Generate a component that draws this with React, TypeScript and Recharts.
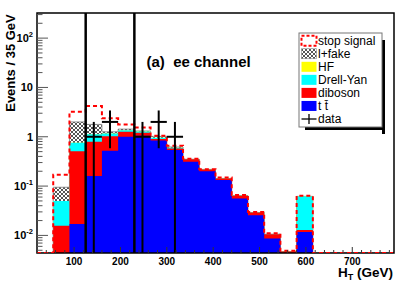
import React from 'react';
import {
  ComposedChart,
  Area,
  Line,
  Scatter,
  ErrorBar,
  XAxis,
  YAxis,
  ReferenceLine,
  ReferenceArea,
} from 'recharts';

// 35 GeV bins, lower edges plus the last upper edge
const BIN_EDGES = [20, 55, 90, 125, 160, 195, 230, 265, 300, 335, 370, 405, 440, 475, 510, 545, 580, 615, 650, 685, 720, 755, 790];

// per-bin contributions (events / 35 GeV)
const TTBAR = [0, 0, 0.017, 0.16, 0.52, 1.0, 1.05, 0.84, 0.54, 0.31, 0.2, 0.133, 0.056, 0.0255, 0.0087, 0, 0.0117, 0, 0, 0, 0, 0];
const DIBOSON = [0, 0.0157, 0.49, 0.63, 0.5, 0.26, 0.15, 0.06, 0.04, 0.04, 0.018, 0.01, 0.008, 0.0035, 0.0019, 0.0047, 0.0012, 0, 0, 0, 0, 0];
const DRELL_YAN = [0, 0.034, 0.25, 0.33, 0.15, 0.09, 0.08, 0.05, 0.02, 0, 0, 0, 0, 0, 0, 0, 0.049, 0, 0, 0, 0, 0];
const HEAVY_FLAVOUR = [0, 0, 0, 0, 0, 0, 0, 0, 0, 0, 0, 0, 0, 0, 0, 0, 0, 0, 0, 0, 0, 0];
const LEP_FAKE = [0, 0.045, 1.24, 0.66, 0.09, 0.08, 0.03, 0.07, 0.02, 0, 0, 0, 0, 0, 0, 0, 0, 0, 0, 0, 0, 0];
const STOP_SIGNAL = [0, 0.075, 1.2, 2.42, 1.1, 0.35, 0.24, 0.03, 0.04, 0.01, 0.002, 0.007, 0.002, 0.001, 0.0004, 0.0002, 0.002, 0, 0, 0, 0, 0];
const DATA_COUNTS = [0, 0, 0, 1, 2, 0, 1, 2, 1, 0, 0, 0, 0, 0, 0, 0, 0, 0, 0, 0, 0, 0];

const CUT_LINES = [125, 230];

const X_LABELS = [100, 200, 300, 400, 500, 600, 700];
const Y_LABELS = [
  { v: 0.01, base: '10', sup: '-2' },
  { v: 0.1, base: '10', sup: '-1' },
  { v: 1, base: '1', sup: '' },
  { v: 10, base: '10', sup: '' },
  { v: 100, base: '10', sup: '2' },
];

const LEGEND = ['stop signal', 'l+fake', 'HF', 'Drell-Yan', 'diboson', 't t\u0304', 'data'];

const YMIN = 0.0044;
const YMAX = 323;
const FONT = '"Liberation Sans", Arial, Helvetica, sans-serif';

const sum = (parts: number[][]) => parts[0].map((_, i) => parts.reduce((s, p) => s + p[i], 0));
const floor = (v: number) => (v > YMIN ? v : YMIN);

const cTT = sum([TTBAR]);
const cDB = sum([TTBAR, DIBOSON]);
const cDY = sum([TTBAR, DIBOSON, DRELL_YAN]);
const cHF = sum([TTBAR, DIBOSON, DRELL_YAN, HEAVY_FLAVOUR]);
const cFK = sum([TTBAR, DIBOSON, DRELL_YAN, HEAVY_FLAVOUR, LEP_FAKE]);
const cSG = sum([TTBAR, DIBOSON, DRELL_YAN, HEAVY_FLAVOUR, LEP_FAKE, STOP_SIGNAL]);

const histRows = BIN_EDGES.map((x, i) => {
  const j = Math.min(i, TTBAR.length - 1);
  return {
    x,
    tt: floor(cTT[j]),
    db: floor(cDB[j]),
    dy: floor(cDY[j]),
    hf: floor(cHF[j]),
    fk: floor(cFK[j]),
    sg: floor(cSG[j]),
  };
});

const dataPoints = DATA_COUNTS.map((n, i) => ({
  x: (BIN_EDGES[i] + BIN_EDGES[i + 1]) / 2,
  y: n,
  ex: (BIN_EDGES[i + 1] - BIN_EDGES[i]) / 2,
  ey: [n - Math.max(n - Math.sqrt(n), YMIN), Math.sqrt(n)],
})).filter((d) => d.y > 0);

const xTicks: number[] = [];
for (let v = 20; v <= 780; v += 20) xTicks.push(v);

const yTicks: number[] = [];
for (let k = -3; k <= 2; k++) {
  for (let m = 1; m <= 9; m++) {
    const v = m * Math.pow(10, k);
    if (v >= YMIN && v <= YMAX) yTicks.push(Number(v.toPrecision(3)));
  }
}

const XTick = (props: any) => {
  const { x, y, payload } = props;
  const major = X_LABELS.includes(payload.value);
  return (
    <g>
      <line x1={x} x2={x} y1={y} y2={y - (major ? 6 : 3)} stroke="#333" strokeWidth={1} />
      {major && (
        <text x={x} y={y + 11.5} textAnchor="middle" fontFamily={FONT} fontWeight="bold" fontSize={10} fill="#000">
          {payload.value}
        </text>
      )}
    </g>
  );
};

const YTick = (props: any) => {
  const { x, y, payload } = props;
  const lab = Y_LABELS.find((l) => Math.abs(l.v - payload.value) < l.v * 1e-3);
  return (
    <g>
      <line x1={x} x2={x + (lab ? 11 : 5.5)} y1={y} y2={y} stroke="#555" strokeWidth={1} />
      {lab && (
        <text x={x - 4} y={y + 4} textAnchor="end" fontFamily={FONT} fontWeight="bold" fontSize={11} fill="#000">
          {lab.base}
          {lab.sup && (
            <tspan fontSize={7.5} dy={-5}>
              {lab.sup}
            </tspan>
          )}
        </text>
      )}
    </g>
  );
};

const LX = 299;
const LY = 33;
const LW = 83;
const LH = 94;

const legendSymbol = (i: number, cy: number) => {
  const bx = 301.5;
  const bw = 15;
  switch (i) {
    case 0:
      return <rect x={bx} y={cy - 5} width={bw} height={10} fill="#fff" stroke="#ff0000" strokeWidth={2} strokeDasharray="3 2" />;
    case 1:
      return <rect x={bx} y={cy - 5} width={bw} height={10} fill="url(#hatch)" stroke="#888" strokeWidth={0.6} />;
    case 2:
      return <rect x={bx} y={cy - 5} width={bw} height={10} fill="#ffff00" />;
    case 3:
      return <rect x={bx} y={cy - 5} width={bw} height={10} fill="#00ffff" />;
    case 4:
      return <rect x={bx} y={cy - 5} width={bw} height={10} fill="#ff0000" />;
    case 5:
      return <rect x={bx} y={cy - 5} width={bw} height={10} fill="#0000ff" />;
    default:
      return (
        <g stroke="#000" strokeWidth={1.3}>
          <line x1={bx} x2={bx + bw} y1={cy} y2={cy} />
          <line x1={bx + bw / 2} x2={bx + bw / 2} y1={cy - 5} y2={cy + 5} />
        </g>
      );
  }
};

export default function App() {
  return (
    <div style={{ width: 415, height: 282 }}>
      <style>{'body{margin:0}'}</style>
      <ComposedChart width={415} height={282} margin={{ top: 13, right: 21, bottom: 0, left: 0 }}>
        <defs>
          <pattern id="hatch" patternUnits="userSpaceOnUse" width={4} height={4}>
            <rect width={4} height={4} fill="#fff" />
            <path d="M0,0 L4,4 M4,0 L0,4" stroke="#555" strokeWidth={1} />
          </pattern>
        </defs>
        <XAxis
          dataKey="x"
          type="number"
          domain={[20, 790]}
          allowDataOverflow
          ticks={xTicks}
          interval={0}
          height={29}
          axisLine={false}
          tickLine={false}
          tickSize={0}
          tickMargin={0}
          tick={<XTick />}
        />
        <YAxis
          type="number"
          scale="log"
          domain={[YMIN, YMAX]}
          allowDataOverflow
          ticks={yTicks}
          interval={0}
          width={37}
          axisLine={false}
          tickLine={false}
          tickSize={0}
          tickMargin={0}
          tick={<YTick />}
        />
        <Area data={histRows} dataKey="fk" type="stepAfter" fill="url(#hatch)" fillOpacity={1} stroke="#777" strokeWidth={0.8} isAnimationActive={false} />
        <Area data={histRows} dataKey="hf" type="stepAfter" fill="#ffff00" fillOpacity={1} stroke="none" isAnimationActive={false} />
        <Area data={histRows} dataKey="dy" type="stepAfter" fill="#00ffff" fillOpacity={1} stroke="none" isAnimationActive={false} />
        <Area data={histRows} dataKey="db" type="stepAfter" fill="#ff0000" fillOpacity={1} stroke="none" isAnimationActive={false} />
        <Area data={histRows} dataKey="tt" type="stepAfter" fill="#0000ff" fillOpacity={1} stroke="none" isAnimationActive={false} />
        <Line
          data={histRows}
          dataKey="sg"
          type="stepAfter"
          stroke="#ff0000"
          strokeWidth={2}
          strokeDasharray="4 3"
          dot={false}
          isAnimationActive={false}
        />
        {CUT_LINES.map((c) => (
          <ReferenceLine key={c} x={c} stroke="#000" strokeWidth={2.5} />
        ))}
        <Scatter data={dataPoints} dataKey="y" shape={() => <g />} isAnimationActive={false}>
          <ErrorBar dataKey="ey" direction="y" width={0} stroke="#000" strokeWidth={2} />
          <ErrorBar dataKey="ex" direction="x" width={0} stroke="#000" strokeWidth={2} />
        </Scatter>
        <ReferenceArea x1={20} x2={790} y1={YMIN} y2={YMAX} fill="none" fillOpacity={0} stroke="#000" strokeWidth={1.5} />

        <text x={146.5} y={67} fontFamily={FONT} fontWeight="bold" fontSize={15} fill="#000" style={{ whiteSpace: 'pre' }}>
          {'(a)  ee channel'}
        </text>
        <text
          x={0}
          y={0}
          transform="translate(15,63) rotate(-90)"
          textAnchor="middle"
          fontFamily={FONT}
          fontWeight="bold"
          fontSize={13}
          fill="#000"
        >
          Events / 35 GeV
        </text>
        <text x={393} y={277} textAnchor="end" fontFamily={FONT} fontWeight="bold" fontSize={13.5} fill="#000">
          H
          <tspan fontSize={9} dy={3}>T</tspan>
          <tspan dy={-3}> (GeV)</tspan>
        </text>

        <g>
          <rect x={LX + 6} y={LY + LH} width={LW - 3} height={3} fill="#000" />
          <rect x={LX + LW} y={LY + 7} width={3} height={LH} fill="#000" />
          <rect x={LX} y={LY} width={LW} height={LH} fill="#fff" stroke="#777" strokeWidth={1} />
          {LEGEND.map((name, i) => {
            const cy = 40.7 + i * 13.05;
            return (
              <g key={name}>
                {legendSymbol(i, cy)}
                <text x={318} y={cy + 4.3} fontFamily={FONT} fontSize={12} fill="#000">
                  {name}
                </text>
              </g>
            );
          })}
        </g>
      </ComposedChart>
    </div>
  );
}
